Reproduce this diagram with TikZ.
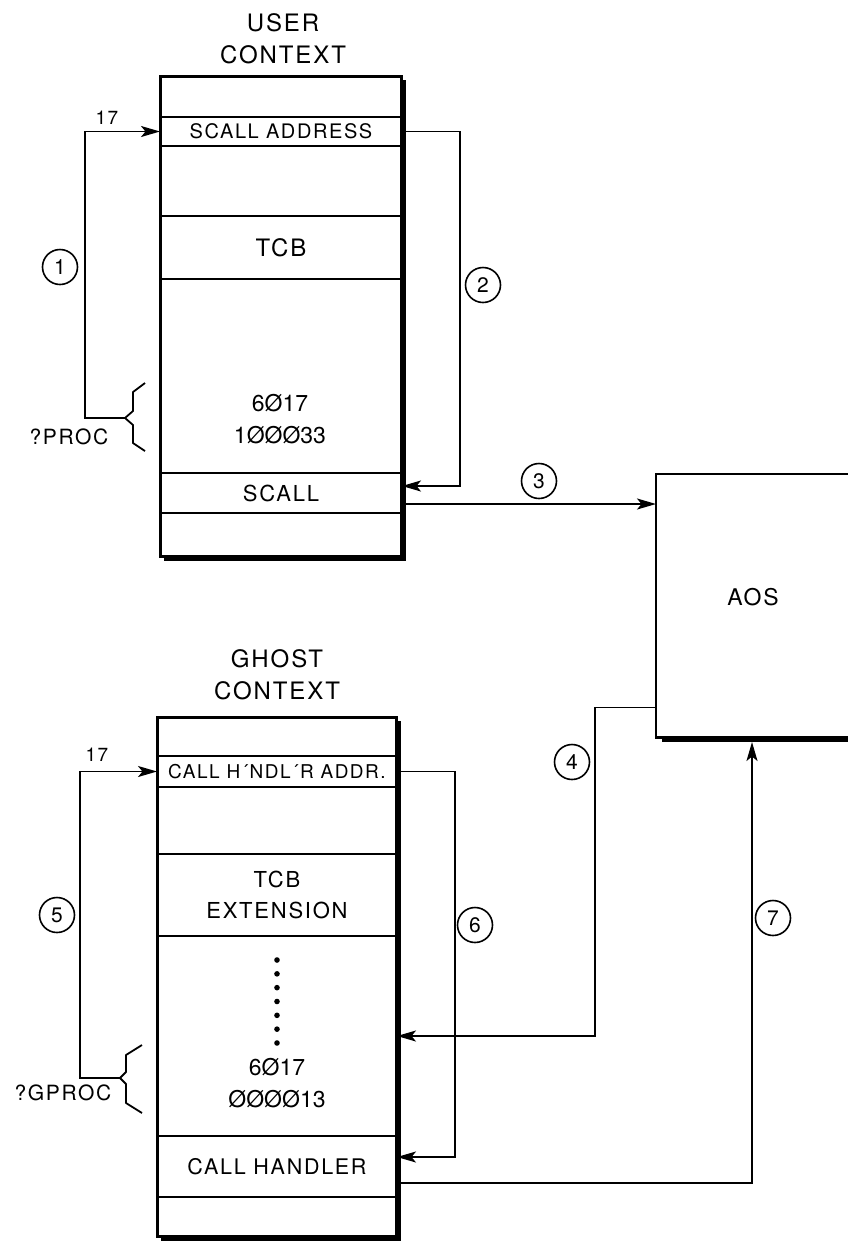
\documentclass[tikz,border=0pt]{standalone}
\usepackage{fontspec}
\setmainfont{TeX Gyre Heros}[LetterSpace=8]
\newfontfamily\digitfont{TeX Gyre Heros}
\usetikzlibrary{arrows.meta,calc}

\tikzset{
  cell/.style={draw, line width=2pt, inner sep=0pt, anchor=north west, align=center},
  conn/.style={line width=1.8pt},
  arr/.style={conn, -{Stealth[length=19pt,width=11pt,inset=4.5pt]}},
  num/.style={draw, circle, line width=1.6pt, minimum size=35pt, inner sep=0pt, font=\fontsize{21}{21}\selectfont},
  title/.style={align=center, font=\fontsize{24}{32}\selectfont},
  frame/.style={line width=2.8pt},
  shadow/.style={line width=3.8pt},
  bracestyle/.style={line width=1.8pt, line join=round},
  smalllabel/.style={font=\fontsize{19}{19}\selectfont},
  proclabel/.style={anchor=west, font=\fontsize{21}{21}\selectfont},
  digits/.style={align=center, font=\digitfont\fontsize{23}{32}\selectfont},
}

\begin{document}
\begin{tikzpicture}[x=1pt,y=-1pt]
\useasboundingbox (0,0) rectangle (848,1243);

% ---------------- user context ----------------
\node[title] (utitle) at (283,39) {USER\\CONTEXT};
\node[cell, minimum width=240pt, minimum height=40pt] (u0) at (160,76) {};
\node[cell, minimum width=240pt, minimum height=29pt, font=\fontsize{20}{20}\selectfont] (usaddr) at (160,116) {SCALL ADDRESS};
\node[cell, minimum width=240pt, minimum height=70pt] (u2) at (160,145) {};
\node[cell, minimum width=240pt, minimum height=63pt, font=\fontsize{24}{24}\selectfont] (utcb) at (160,215) {TCB};
\node[cell, minimum width=240pt, minimum height=194pt] (udata) at (160,278) {};
\node[cell, minimum width=240pt, minimum height=40pt, font=\fontsize{22}{22}\selectfont] (uscall) at (160,472) {SCALL};
\node[cell, minimum width=240pt, minimum height=43pt] (u6) at (160,512) {};
\draw[frame] (u0.north west) rectangle (u6.south east);
\draw[shadow] ([xshift=2pt,yshift=-4pt]u0.north east) -- ([xshift=2pt,yshift=-2pt]u6.south east) -- ([xshift=4pt,yshift=-2pt]u6.south west);
\node[digits] (udigits) at (280,419) {6Ø17\\1ØØØ33};

% brace ?PROC
\coordinate (ubt) at (125,418);
\draw[bracestyle] (145,383) -- (133,392) -- (133,411) -- (ubt) -- (133,425) -- (133,443) -- (145,451);
\node[proclabel] (proc) at (26,437) {?PROC};

% ---------------- ghost context ----------------
\node[title] (gtitle) at (277,675) {GHOST\\CONTEXT};
\node[cell, minimum width=238pt, minimum height=38pt] (g0) at (157,717) {};
\node[cell, minimum width=238pt, minimum height=31pt, font=\fontsize{19}{19}\selectfont] (gaddr) at (157,755) {CALL H´NDL´R ADDR.};
\node[cell, minimum width=238pt, minimum height=67pt] (g2) at (157,786) {};
\node[cell, minimum width=238pt, minimum height=82pt, font=\fontsize{22}{31}\selectfont] (gtcb) at (157,853) {TCB\\EXTENSION};
\node[cell, minimum width=238pt, minimum height=200pt] (gdata) at (157,935) {};
\node[cell, minimum width=238pt, minimum height=61pt, font=\fontsize{21.5}{21.5}\selectfont] (ghandler) at (157,1135) {CALL HANDLER};
\node[cell, minimum width=238pt, minimum height=39pt] (g6) at (157,1196) {};
\draw[frame] (g0.north west) rectangle (g6.south east);
\draw[shadow] ([xshift=2pt,yshift=-4pt]g0.north east) -- ([xshift=2pt,yshift=-2pt]g6.south east) -- ([xshift=4pt,yshift=-2pt]g6.south west);
\foreach \i in {0,...,6} \fill (277,{960+13.83*\i}) circle (2.8pt);
\node[digits] (gdigits) at (277,1083) {6Ø17\\ØØØØ13};

% brace ?GPROC
\coordinate (gbt) at (120,1078);
\draw[bracestyle] (142,1045) -- (126,1055) -- (126,1072) -- (gbt) -- (126,1084) -- (126,1103) -- (142,1113);
\node[proclabel] (gproc) at (11,1093) {?GPROC};

% ---------------- AOS ----------------
\node[minimum width=192pt, minimum height=263pt, anchor=north west, inner sep=0pt] (aos) at (656,474) {};
\draw[frame] (aos.north east) -- (aos.north west) -- (aos.south west) -- (aos.south east);
\draw[shadow] ([xshift=6pt,yshift=-2.5pt]aos.south west) -- ([yshift=-2.5pt]aos.south east);
\node[font=\fontsize{23}{23}\selectfont] (aoslabel) at (753,597) {AOS};

% ---------------- connectors ----------------
\draw[arr] (ubt) -- ++(-40,0) |- (usaddr.west);
\node[smalllabel] (l17a) at (107,118) {17};
\node[num] (c1) at (60,267) {1};

\draw[arr] (usaddr.east) -- ++(58,0) |- ([yshift=7pt]uscall.east);
\node[num] (c2) at (483,285) {2};

\coordinate (u3s) at ([yshift=-11pt]uscall.east);
\draw[arr] (u3s) -- (u3s -| aos.west);
\node[num] (c3) at (539,481) {3};

\draw[arr] ([yshift=30pt]aos.south west) -- ++(-61,0) |- (gdata.east);
\node[num] (c4) at (572,762) {4};

\draw[arr] (gbt) -- ++(-40,0) |- (gaddr.west);
\node[smalllabel] (l17b) at (97,755) {17};
\node[num] (c5) at (57,915) {5};

\draw[arr] (gaddr.east) -- ++(58,0) |- ([yshift=9.5pt]ghandler.east);
\node[num] (c6) at (475,925) {6};

\coordinate (g7s) at ([yshift=-16.5pt]ghandler.east);
\coordinate (a7) at (752,742);
\draw[arr] (g7s) -| (a7);
\node[num] (c7) at (773,918) {7};
\end{tikzpicture}
\end{document}
